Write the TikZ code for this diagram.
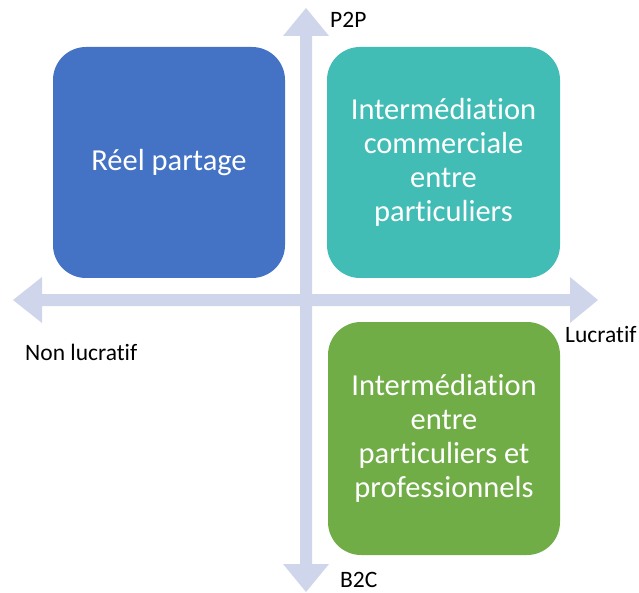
\documentclass[tikz,border=0pt]{standalone}
\usepackage{fontspec}
\setmainfont{Carlito}[Ligatures=NoCommon]
\definecolor{axiscol}{HTML}{CFD5EA}
\definecolor{bluebox}{HTML}{4472C4}
\definecolor{tealbox}{HTML}{42BDB6}
\definecolor{greenbox}{HTML}{70AD47}
\begin{document}
\begin{tikzpicture}[x=1pt,y=-1pt,
  quad/.style={rounded corners=33pt, minimum width=232pt, minimum height=231pt, inner sep=0pt,
    text=white, align=center, font=\fontsize{30.5}{34}\selectfont},
  axislabel/.style={anchor=base west, inner sep=0pt, font=\fontsize{23.5}{26}\selectfont, text=black},
  axisshape/.style={fill=axiscol}]
\useasboundingbox (0,0) rectangle (639,593);
% axes
\coordinate (W) at (13,300);
\coordinate (E) at (598,300);
\coordinate (N) at (306,8);
\coordinate (S) at (306,592);
\fill[axisshape] (W) -- (42,277) -- (42,294) -- (570,294) -- (570,277) -- (E)
  -- (570,323) -- (570,306) -- (42,306) -- (42,323) -- cycle;
\fill[axisshape] (N) -- (329,36) -- (312,36) -- (312,564) -- (329,564) -- (S)
  -- (283,564) -- (300,564) -- (300,36) -- (283,36) -- cycle;
% boxes
\node[quad, fill=bluebox] (reel) at (169,162.5) {Réel partage};
\node[quad, fill=tealbox, minimum width=233pt] (comm) at (443.5,162.5) {Intermédiation\\commerciale\\entre\\particuliers};
\node[quad, fill=greenbox, minimum width=232pt, minimum height=233pt] (pro) at (444,438.5) {Intermédiation\\entre\\particuliers et\\professionnels};
% labels
\node[axislabel] (p2p) at (330,28) {P2P};
\node[axislabel] (b2c) at (340,587) {B2C};
\node[axislabel] (nonluc) at (25,360) {Non lucratif};
\node[axislabel] (luc) at (565,342) {Lucratif};
\end{tikzpicture}
\end{document}
